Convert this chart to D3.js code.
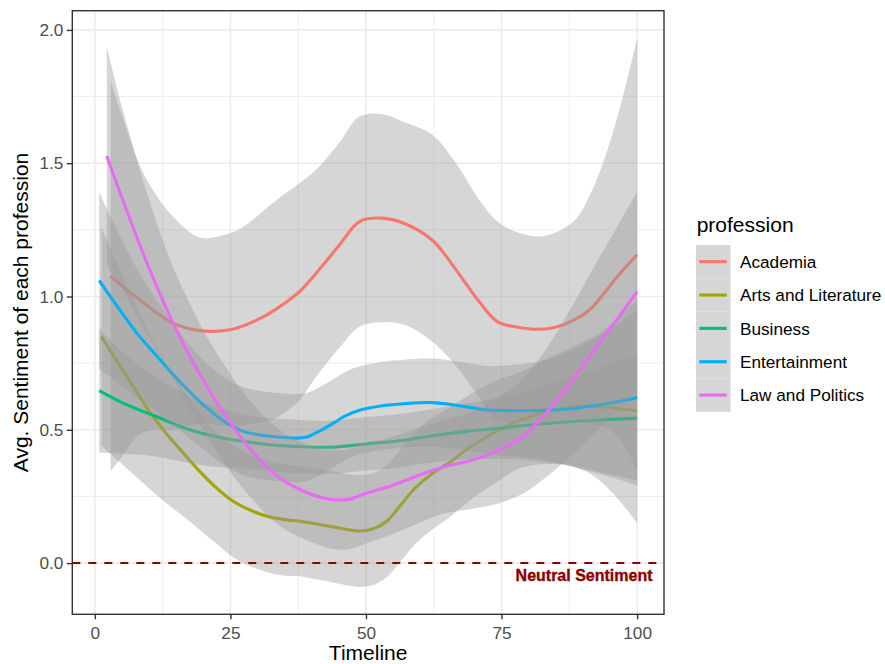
<!DOCTYPE html>
<html>
<head>
<meta charset="utf-8">
<script src="https://cdn.jsdelivr.net/npm/d3@7"></script>
<style>
  body { margin: 0; background: #ffffff; }
  text { font-family: "Liberation Sans", Arial, Helvetica, sans-serif; }
</style>
</head>
<body>
<svg id="chart" width="885" height="664"></svg>
<script>
// ---------------- data ----------------
const professions = ["Academia", "Arts and Literature", "Business", "Entertainment", "Law and Politics"];
const xTicks = [0, 25, 50, 75, 100];
const xTickLabels = ["0", "25", "50", "75", "100"];
const yTicks = [0, 0.5, 1, 1.5, 2];
const yTickLabels = ["0.0", "0.5", "1.0", "1.5", "2.0"];
const neutralValue = 0;
const neutralLabel = "Neutral Sentiment";

// Academia
const academiaX  = [2.9, 5, 8.3, 11, 14.4, 19.3, 24.9, 28, 32.2, 35, 37.75, 40.8, 45, 48.8, 52.8, 57, 62.3, 66.6, 70.9, 74.3, 78, 82, 85, 88.7, 91.5, 94.2, 97, 100];
const academiaY  = [1.077, 1.04, 0.987, 0.945, 0.9, 0.872, 0.875, 0.895, 0.937, 0.975, 1.018, 1.087, 1.19, 1.281, 1.294, 1.275, 1.21, 1.10, 0.98, 0.905, 0.885, 0.877, 0.885, 0.915, 0.955, 1.02, 1.09, 1.157];
const academiaLo = [0.344, 0.40, 0.484, 0.50, 0.50, 0.522, 0.513, 0.52, 0.534, 0.565, 0.611, 0.699, 0.805, 0.887, 0.903, 0.895, 0.83, 0.74, 0.62, 0.53, 0.53, 0.529, 0.53, 0.54, 0.52, 0.51, 0.46, 0.345];
const academiaHi = [1.81, 1.68, 1.49, 1.39, 1.30, 1.222, 1.237, 1.27, 1.34, 1.385, 1.425, 1.475, 1.575, 1.675, 1.685, 1.655, 1.606, 1.50, 1.362, 1.28, 1.24, 1.225, 1.24, 1.29, 1.39, 1.53, 1.72, 1.969];

// Arts and Literature
const artsX  = [1.2, 4, 7, 10, 13.2, 16, 19.3, 22, 25.5, 28.5, 31.6, 35, 37.75, 40.8, 43.9, 48.2, 50, 51.9, 54, 56.2, 59, 62.3, 65.4, 68.5, 71.5, 74.6, 77.7, 80.7, 83.8, 86.9, 90, 93, 96.5, 100];
const artsY  = [0.85, 0.76, 0.665, 0.57, 0.485, 0.42, 0.345, 0.29, 0.232, 0.2, 0.177, 0.163, 0.157, 0.147, 0.136, 0.121, 0.122, 0.133, 0.16, 0.212, 0.28, 0.337, 0.377, 0.425, 0.465, 0.5, 0.53, 0.552, 0.572, 0.584, 0.589, 0.587, 0.58, 0.571];
const artsLo = [0.44, 0.39, 0.335, 0.28, 0.225, 0.18, 0.125, 0.08, 0.022, -0.01, -0.033, -0.047, -0.049, -0.061, -0.073, -0.089, -0.088, -0.077, -0.05, 0.002, 0.07, 0.127, 0.172, 0.225, 0.27, 0.31, 0.35, 0.367, 0.372, 0.369, 0.349, 0.312, 0.24, 0.151];
const artsHi = [1.26, 1.13, 0.995, 0.86, 0.745, 0.66, 0.565, 0.50, 0.442, 0.41, 0.387, 0.373, 0.363, 0.355, 0.345, 0.331, 0.332, 0.343, 0.37, 0.422, 0.49, 0.547, 0.582, 0.625, 0.66, 0.69, 0.71, 0.737, 0.772, 0.799, 0.829, 0.862, 0.92, 0.991];

// Business
const businessX  = [0.8, 5.2, 11.3, 17.5, 23.6, 28, 32.2, 37.75, 43.9, 50, 56.2, 62.3, 68.5, 74.6, 80.7, 86.9, 93, 100];
const businessY  = [0.647, 0.6, 0.55, 0.5, 0.469, 0.455, 0.444, 0.437, 0.435, 0.447, 0.459, 0.478, 0.494, 0.506, 0.519, 0.529, 0.537, 0.544];
const businessLo = [0.414, 0.41, 0.40, 0.375, 0.359, 0.355, 0.344, 0.337, 0.335, 0.347, 0.359, 0.378, 0.389, 0.391, 0.384, 0.369, 0.342, 0.31];
const businessHi = [0.88, 0.79, 0.70, 0.625, 0.579, 0.555, 0.544, 0.537, 0.535, 0.547, 0.559, 0.578, 0.599, 0.621, 0.654, 0.689, 0.732, 0.778];

// Entertainment
const entX  = [0.8, 3, 5.2, 8, 11.3, 14.4, 17.5, 20.5, 23.6, 27, 30, 32.2, 35, 37.75, 39.5, 41.4, 44, 46, 48.8, 53, 57, 62.3, 67.2, 72.1, 76, 80.7, 86.9, 93, 96.5, 100];
const entY  = [1.06, 0.996, 0.933, 0.856, 0.78, 0.708, 0.642, 0.585, 0.535, 0.497, 0.482, 0.476, 0.471, 0.469, 0.476, 0.495, 0.525, 0.55, 0.573, 0.59, 0.598, 0.602, 0.59, 0.575, 0.572, 0.572, 0.577, 0.594, 0.605, 0.621];
const entLo = [0.73, 0.696, 0.663, 0.616, 0.57, 0.518, 0.467, 0.42, 0.37, 0.332, 0.317, 0.311, 0.306, 0.304, 0.311, 0.33, 0.36, 0.385, 0.408, 0.425, 0.433, 0.437, 0.425, 0.41, 0.402, 0.392, 0.367, 0.334, 0.315, 0.291];
const entHi = [1.39, 1.296, 1.203, 1.096, 0.99, 0.898, 0.817, 0.75, 0.70, 0.662, 0.647, 0.641, 0.636, 0.634, 0.641, 0.66, 0.69, 0.715, 0.738, 0.755, 0.763, 0.767, 0.755, 0.74, 0.742, 0.752, 0.787, 0.854, 0.895, 0.951];

// Law and Politics
const lawX  = [2.2, 5, 8, 9.8, 12, 14.4, 17, 19.3, 22, 24.9, 28, 32.2, 35, 37.75, 40.8, 43.9, 47, 50, 54.3, 59.2, 64.1, 69.7, 74.6, 78.9, 83.2, 88.1, 93, 96.7, 100];
const lawY  = [1.527, 1.37, 1.208, 1.116, 1.01, 0.902, 0.795, 0.71, 0.618, 0.528, 0.444, 0.352, 0.307, 0.277, 0.252, 0.238, 0.24, 0.262, 0.287, 0.325, 0.36, 0.387, 0.425, 0.475, 0.562, 0.687, 0.825, 0.925, 1.018];
const lawLo = [1.117, 1.03, 0.918, 0.856, 0.78, 0.692, 0.595, 0.52, 0.433, 0.345, 0.264, 0.172, 0.127, 0.097, 0.072, 0.053, 0.052, 0.074, 0.104, 0.145, 0.185, 0.204, 0.225, 0.26, 0.322, 0.407, 0.505, 0.575, 0.643];
const lawHi = [1.937, 1.71, 1.498, 1.376, 1.24, 1.112, 0.995, 0.90, 0.803, 0.711, 0.624, 0.532, 0.487, 0.457, 0.432, 0.423, 0.428, 0.45, 0.47, 0.505, 0.535, 0.57, 0.625, 0.69, 0.802, 0.967, 1.145, 1.275, 1.393];

// ---------------- styles ----------------
const seriesColors = ["#F8766D", "#A3A500", "#00BF7D", "#00B0F6", "#E76BF3"];

const seriesData = [
  [academiaX, academiaY, academiaLo, academiaHi],
  [artsX, artsY, artsLo, artsHi],
  [businessX, businessY, businessLo, businessHi],
  [entX, entY, entLo, entHi],
  [lawX, lawY, lawLo, lawHi]
].map((s, i) => ({
  name: professions[i],
  color: seriesColors[i],
  points: s[0].map((xv, j) => ({ x: xv, y: s[1][j], lo: s[2][j], hi: s[3][j] }))
}));

// ---------------- layout ----------------
const svg = d3.select("#chart");
svg.append("rect").attr("width", 885).attr("height", 664).attr("fill", "#ffffff");

const P = { l: 72.3, r: 664, t: 10.7, b: 614.3 };
const x = d3.scaleLinear().domain([-4.16, 104.96]).range([P.l, P.r]);
const y = d3.scaleLinear().domain([-0.192, 2.072]).range([P.b, P.t]);

svg.append("defs").append("clipPath").attr("id", "clip")
  .append("rect").attr("x", P.l).attr("y", P.t).attr("width", P.r - P.l).attr("height", P.b - P.t);

const grid = svg.append("g");
const xMinor = xTicks.slice(0, -1).map((d, i) => (d + xTicks[i + 1]) / 2);
const yMinor = yTicks.slice(0, -1).map((d, i) => (d + yTicks[i + 1]) / 2);
grid.selectAll(".xm").data(xMinor).join("line")
  .attr("x1", d => x(d)).attr("x2", d => x(d)).attr("y1", P.t).attr("y2", P.b)
  .attr("stroke", "#EBEBEB").attr("stroke-width", 0.9);
grid.selectAll(".ym").data(yMinor).join("line")
  .attr("x1", P.l).attr("x2", P.r).attr("y1", d => y(d)).attr("y2", d => y(d))
  .attr("stroke", "#EBEBEB").attr("stroke-width", 0.9);
grid.selectAll(".xM").data(xTicks).join("line")
  .attr("x1", d => x(d)).attr("x2", d => x(d)).attr("y1", P.t).attr("y2", P.b)
  .attr("stroke", "#EBEBEB").attr("stroke-width", 1.6);
grid.selectAll(".yM").data(yTicks).join("line")
  .attr("x1", P.l).attr("x2", P.r).attr("y1", d => y(d)).attr("y2", d => y(d))
  .attr("stroke", "#EBEBEB").attr("stroke-width", 1.6);

const plot = svg.append("g").attr("clip-path", "url(#clip)");
const curve = d3.curveCatmullRom.alpha(0.5);
const area = d3.area().x(d => x(d.x)).y0(d => y(d.lo)).y1(d => y(d.hi)).curve(curve);
const line = d3.line().x(d => x(d.x)).y(d => y(d.y)).curve(curve);

seriesData.forEach(s => {
  plot.append("path").attr("d", area(s.points))
    .attr("fill", "#999999").attr("fill-opacity", 0.4).attr("stroke", "none");
  plot.append("path").attr("d", line(s.points))
    .attr("fill", "none").attr("stroke", s.color).attr("stroke-width", 3.1)
    .attr("stroke-linecap", "butt").attr("stroke-linejoin", "round");
});

// neutral reference line
plot.append("line")
  .attr("x1", P.l).attr("x2", P.r).attr("y1", y(neutralValue)).attr("y2", y(neutralValue))
  .attr("stroke", "#8B0000").attr("stroke-width", 2).attr("stroke-dasharray", "8,8");
plot.append("text")
  .attr("x", x(104.96) - 11.5).attr("y", y(neutralValue) + 17.5)
  .attr("text-anchor", "end").attr("font-size", 16).attr("font-weight", "bold")
  .attr("fill", "#8B0000").attr("stroke", "#8B0000").attr("stroke-width", 0.35)
  .text(neutralLabel);

// panel border
svg.append("rect").attr("x", P.l).attr("y", P.t).attr("width", P.r - P.l).attr("height", P.b - P.t)
  .attr("fill", "none").attr("stroke", "#333333").attr("stroke-width", 1.4);

// axes
const xAxis = svg.append("g").attr("transform", `translate(0,${P.b})`)
  .call(d3.axisBottom(x).tickValues(xTicks).tickFormat((d, i) => xTickLabels[i]).tickSize(5).tickPadding(7));
const yAxis = svg.append("g").attr("transform", `translate(${P.l},0)`)
  .call(d3.axisLeft(y).tickValues(yTicks).tickFormat((d, i) => yTickLabels[i]).tickSize(5.5).tickPadding(3.5));
[xAxis, yAxis].forEach(a => {
  a.select(".domain").remove();
  a.selectAll(".tick line").attr("stroke", "#333333").attr("stroke-width", 1.4);
  a.selectAll(".tick text").attr("fill", "#4D4D4D").attr("font-size", 17.2)
    .attr("font-family", "'Liberation Sans', Arial, sans-serif");
});

// axis titles
svg.append("text").attr("x", (P.l + P.r) / 2).attr("y", 660)
  .attr("text-anchor", "middle").attr("font-size", 21).attr("fill", "#000000").text("Timeline");
svg.append("text").attr("transform", `translate(28,${(P.t + P.b) / 2}) rotate(-90)`)
  .attr("text-anchor", "middle").attr("font-size", 21).attr("fill", "#000000")
  .text("Avg. Sentiment of each profession");

// legend
const legend = svg.append("g");
legend.append("text").attr("x", 696.7).attr("y", 231.5).attr("font-size", 21)
  .attr("fill", "#000000").text("profession");
const keyH = 33.35, keyTop = 245, keyX = 696, keyW = 34.5;
const keys = legend.selectAll(".key").data(seriesData).join("g")
  .attr("transform", (d, i) => `translate(0,${keyTop + i * keyH})`);
keys.append("rect").attr("x", keyX).attr("y", 0).attr("width", keyW).attr("height", keyH)
  .attr("fill", "#D6D6D6");
keys.append("line").attr("x1", keyX + 3.3).attr("x2", keyX + keyW - 3.8)
  .attr("y1", keyH / 2).attr("y2", keyH / 2)
  .attr("stroke", d => d.color).attr("stroke-width", 3.1);
keys.append("text").attr("x", 740).attr("y", keyH / 2).attr("dy", "0.36em")
  .attr("font-size", 17.2).attr("fill", "#000000").text(d => d.name);
</script>
</body>
</html>
